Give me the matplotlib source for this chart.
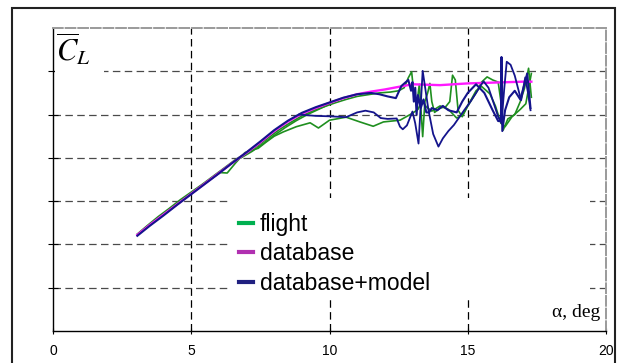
import matplotlib
matplotlib.use("Agg")
import matplotlib.pyplot as plt
from matplotlib.lines import Line2D
from matplotlib.patches import Rectangle

plt.rcParams['font.family'] = ['Liberation Sans', 'DejaVu Sans']
plt.rcParams['mathtext.fontset'] = 'stix'

# database curve
alpha_db = [3.05, 3.5, 4.0, 4.5, 5.0, 5.5, 6.0, 6.5, 7.0, 7.5, 8.0, 8.5, 9.0, 9.5,
            10.0, 10.5, 11.0, 11.5, 12.0, 12.5, 13.0, 13.5, 14.0, 14.5, 15.0, 15.5,
            16.0, 16.5, 17.0, 17.3]
cl_db = [2.22, 2.45, 2.69, 2.93, 3.17, 3.41, 3.65, 3.89, 4.12, 4.36, 4.62, 4.84, 5.02,
         5.15, 5.27, 5.38, 5.47, 5.53, 5.58, 5.64, 5.70, 5.69, 5.68, 5.70, 5.72, 5.73,
         5.74, 5.75, 5.76, 5.76]

# flight data, upper branch
alpha_fl1 = [3.05, 3.4, 3.8, 4.2, 4.6, 5.0, 5.4, 5.8, 6.2, 6.6, 7.0, 7.4, 7.8, 8.2, 8.6,
             9.0, 9.4, 9.8, 10.2, 10.6, 11.0, 11.4, 11.8, 12.2, 12.5, 12.7, 12.85, 12.97,
             13.05, 13.15, 13.25, 13.37, 13.45, 13.55, 13.63, 13.7, 13.8, 14.0, 14.2,
             14.35, 14.45, 14.55, 14.65, 14.8, 15.0, 15.3, 15.5, 15.7, 15.9, 16.1, 16.2,
             16.28, 16.45, 16.7, 16.9, 17.05, 17.2, 17.3]
cl_fl1 = [2.24, 2.43, 2.64, 2.83, 3.03, 3.21, 3.39, 3.58, 3.77, 3.96, 4.12, 4.28, 4.47,
          4.66, 4.82, 4.97, 5.09, 5.18, 5.27, 5.35, 5.42, 5.46, 5.50, 5.52, 5.55, 5.62,
          5.85, 5.99, 5.50, 5.20, 5.70, 4.49, 5.30, 5.50, 5.72, 5.30, 5.05, 5.15, 5.18,
          5.30, 5.91, 5.80, 5.10, 4.95, 5.20, 5.50, 5.75, 5.87, 5.80, 5.75, 5.30, 4.64,
          4.90, 5.00, 5.30, 5.60, 6.07, 5.40]

# flight data, lower branch
alpha_fl2 = [5.8, 6.04, 6.3, 6.6, 6.94, 7.2, 7.42, 7.7, 8.0, 8.33, 8.8, 9.3, 9.6, 10.0,
             10.6, 11.1, 11.58, 11.95, 12.55, 13.0, 13.2, 13.35, 13.5, 13.7, 14.0, 14.3,
             14.6, 14.8, 15.0, 15.3, 15.5, 15.8, 16.0, 16.2, 16.35, 16.6, 16.9, 17.1, 17.3]
cl_fl2 = [3.55, 3.66, 3.65, 3.88, 4.12, 4.18, 4.22, 4.36, 4.50, 4.60, 4.72, 4.81, 4.69,
          4.87, 4.94, 4.83, 4.73, 4.83, 4.87, 5.03, 5.12, 5.32, 5.18, 5.08, 5.20, 5.12,
          4.92, 4.98, 5.20, 5.55, 5.65, 5.48, 5.20, 4.80, 4.72, 4.95, 5.12, 5.25, 5.95]

# flight data, middle branch
alpha_fl3 = [6.8, 7.2, 7.6, 8.0, 8.4, 8.8, 9.2, 9.6, 10.0]
cl_fl3 = [4.00, 4.15, 4.33, 4.52, 4.70, 4.86, 5.00, 5.12, 5.24]

# database+model, upper branch
alpha_m1 = [3.05, 3.5, 4.0, 4.5, 5.0, 5.5, 6.0, 6.5, 7.0, 7.5, 8.0, 8.5, 9.0, 9.5, 10.0,
            10.5, 11.0, 11.5, 11.8, 12.1, 12.4, 12.6, 12.85, 12.95, 13.0, 13.05, 13.1,
            13.15, 13.2, 13.3, 13.4, 13.5, 13.6, 13.7, 13.9, 14.1, 14.3, 14.6, 14.8,
            15.0, 15.3, 15.6, 15.9, 16.1, 16.2, 16.22, 16.25, 16.35, 16.5, 16.7, 16.9,
            17.05, 17.15, 17.27]
cl_m1 = [2.20, 2.43, 2.67, 2.92, 3.16, 3.40, 3.64, 3.89, 4.13, 4.38, 4.64, 4.86, 5.04,
         5.17, 5.28, 5.39, 5.47, 5.50, 5.47, 5.42, 5.38, 5.66, 5.80, 5.55, 5.75, 5.30,
         5.62, 5.00, 5.45, 5.15, 5.35, 5.05, 5.05, 5.15, 5.10, 5.20, 5.10, 5.05, 5.30,
         5.50, 5.70, 5.50, 5.10, 4.85, 4.85, 6.33, 4.62, 5.10, 5.40, 5.55, 5.35, 5.70,
         5.95, 5.15]

# database+model, lower branch
alpha_m2 = [8.9, 9.5, 10.0, 10.6, 11.0, 11.3, 11.6, 11.85, 12.1, 12.43, 12.55, 12.65,
            12.8, 13.0, 13.1, 13.22, 13.37, 13.58, 13.75, 13.94, 14.1, 14.3, 14.5, 14.87,
            15.1, 15.37, 15.57, 15.75, 15.94, 16.1, 16.22, 16.32, 16.41, 16.55, 16.7,
            16.93, 17.08, 17.18, 17.27]
cl_m2 = [5.00, 4.97, 4.96, 4.94, 5.05, 5.09, 5.05, 4.92, 4.90, 4.91, 4.72, 4.66, 4.75,
         5.07, 4.80, 4.33, 6.01, 5.10, 4.55, 4.26, 4.45, 4.62, 4.76, 5.10, 5.30, 5.57,
         5.77, 5.62, 5.26, 4.95, 4.80, 5.60, 6.22, 6.15, 5.90, 5.33, 5.86, 5.50, 5.10]

x_ticks = [0, 5, 10, 15, 20]
legend_labels = ['flight', 'database', 'database+model']

green = '#1f8f1f'
magenta = '#ff19ff'
navy = '#14148c'

fig = plt.figure(figsize=(6.18, 3.63), dpi=100)
ax = fig.add_axes([53 / 618, 1 - 331 / 363, 553 / 618, 303 / 363])
ax.set_xlim(0, 20)
ax.set_ylim(0, 7)

ax.set_xticks(x_ticks)
ax.set_xticklabels([str(t) for t in x_ticks])
ax.set_yticks(range(1, 7))
ax.set_yticklabels([])
ax.tick_params(axis='x', direction='inout', length=5, width=0.8, labelsize=10, pad=7)
ax.tick_params(axis='y', direction='inout', length=7, width=0.8)

ax.set_axisbelow(True)
ax.xaxis.grid(True, color='black', ls=(0, (6, 3.5)), lw=0.9)
ax.yaxis.grid(True, color='#4a4a4a', ls=(0, (6, 3.5)), lw=0.9)
xg = ax.get_xgridlines()
xg[0].set_visible(False)
xg[-1].set_visible(False)

for s in ['top', 'right']:
    ax.spines[s].set_linestyle((0, (5, 1.5)))
    ax.spines[s].set_color('#9a9a9a')
    ax.spines[s].set_linewidth(1.4)
for s in ['left', 'bottom']:
    ax.spines[s].set_linewidth(1.0)

# white boxes behind the label and the legend
ax.add_patch(Rectangle((0.004, 0.845), 0.088, 0.15, transform=ax.transAxes,
                       facecolor='white', edgecolor='none', zorder=1))
ax.add_patch(Rectangle((0.316, 0.112), 0.655, 0.327, transform=ax.transAxes,
                       facecolor='white', edgecolor='none', zorder=1))

ax.plot(alpha_fl3, cl_fl3, color=green, lw=1.2, zorder=2)
ax.plot(alpha_fl2, cl_fl2, color=green, lw=1.2, zorder=2)
ax.plot(alpha_fl1, cl_fl1, color=green, lw=1.2, zorder=2)
ax.plot(alpha_db, cl_db, color=magenta, lw=1.7, zorder=3)
ax.plot(alpha_m2, cl_m2, color=navy, lw=1.3, zorder=4)
ax.plot(alpha_m1, cl_m1, color=navy, lw=1.5, zorder=4)

handles = [Line2D([], [], color='#00b050', lw=3),
           Line2D([], [], color='#b030b0', lw=3),
           Line2D([], [], color='#202080', lw=3)]
ax.legend(handles, legend_labels, loc='upper left', bbox_to_anchor=(0.336, 0.39),
          frameon=False, fontsize=16.5, handlelength=0.62, handletextpad=0.3,
          labelspacing=0.28, borderpad=0, borderaxespad=0)

ax.text(0.006, 0.99, r'$\overline{C}_L$', transform=ax.transAxes, fontsize=22,
        ha='left', va='top', zorder=5)
ax.text(0.989, 0.045, 'α, deg', transform=ax.transAxes, fontsize=14,
        family=['Liberation Serif', 'DejaVu Serif'], ha='right', va='baseline')

fig.patches.append(Rectangle((12 / 618, -0.02), 603 / 618, 1 - 8 / 363 + 0.02,
                             transform=fig.transFigure, fill=False,
                             edgecolor='#222222', lw=1.5))

fig.savefig('out.png', dpi=100)
